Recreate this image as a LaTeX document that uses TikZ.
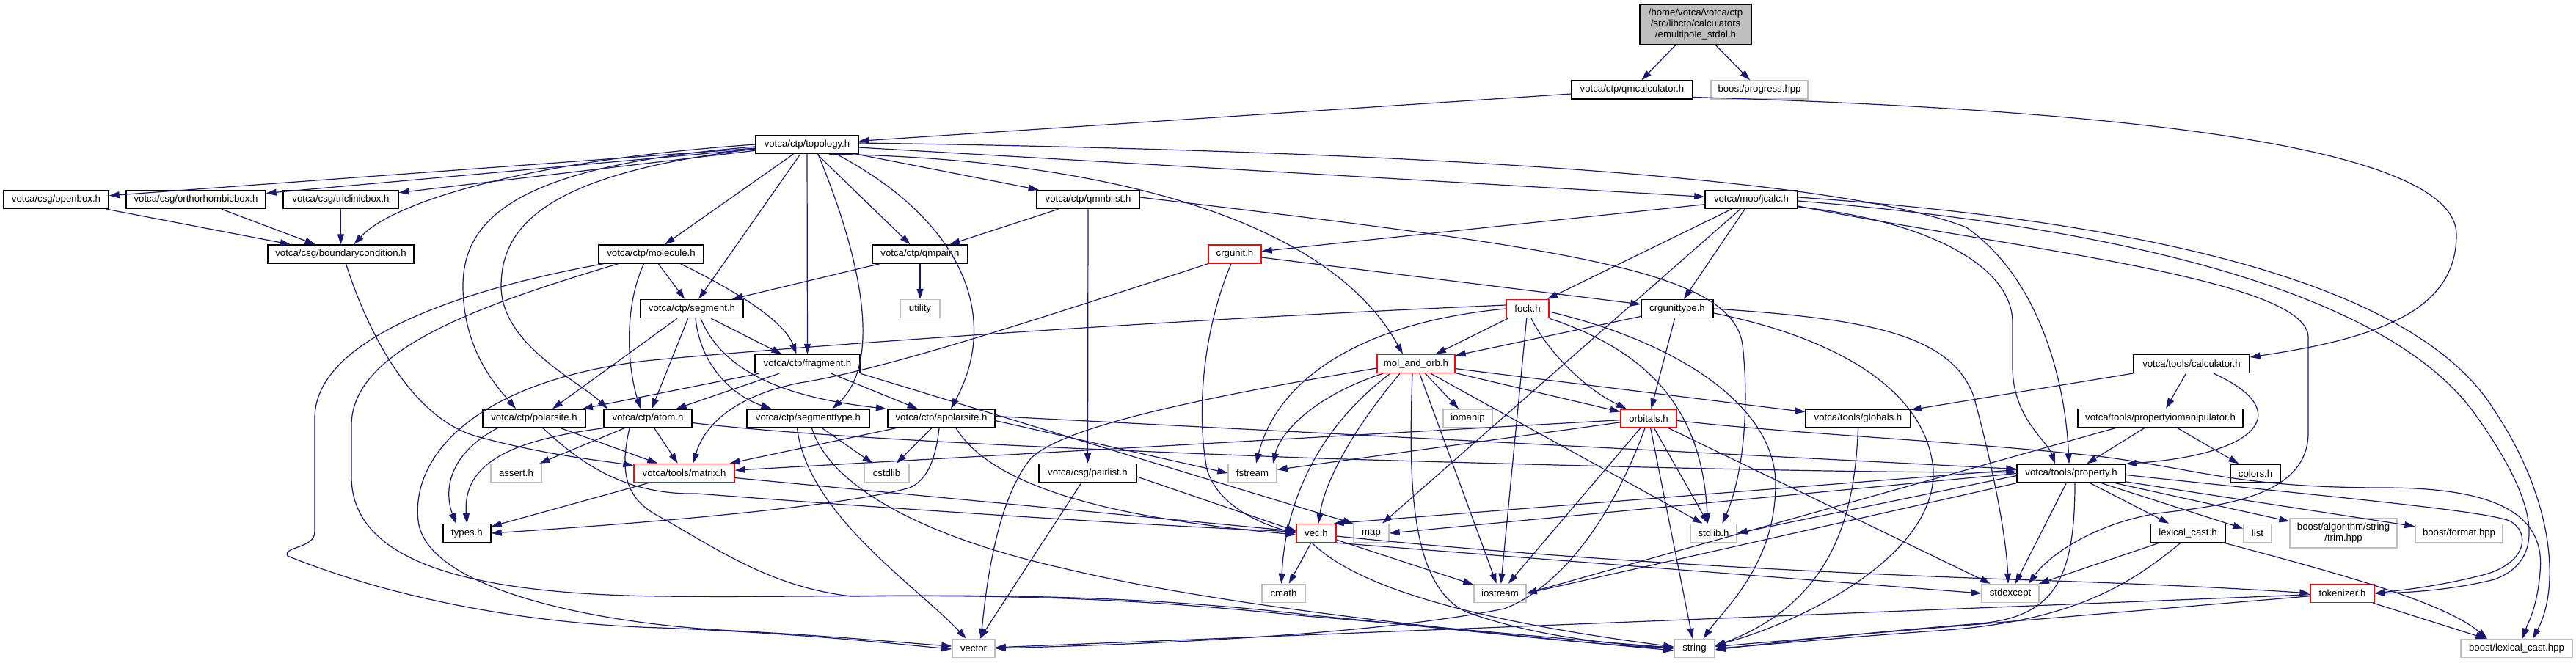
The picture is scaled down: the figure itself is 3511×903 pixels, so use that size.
\documentclass[tikz,border=0pt]{standalone}
\usepackage{fontspec}
\setmainfont{Liberation Sans}
\usetikzlibrary{arrows.meta}
\definecolor{edgec}{RGB}{25,25,112}
\definecolor{sysgray}{RGB}{191,191,191}
\definecolor{rootfill}{RGB}{191,191,191}
\newcommand{\nfont}{\fontsize{13.2}{15}\selectfont}
\begin{document}
\begin{tikzpicture}[x=1pt,y=-1pt,
  bx/.style={draw=black, line width=1.4pt, fill=white, inner sep=0pt, minimum height=25pt, font=\nfont},
  sy/.style={bx, draw=sysgray},
  rd/.style={bx, draw=red},
  e/.style={draw=edgec, line width=1.2pt, -{Triangle[length=14pt,width=9pt]}}]
\useasboundingbox (0,0) rectangle (3511,903);
% nodes
\node[bx, fill=rootfill, minimum width=152pt, minimum height=55pt, align=center] (root) at (2311,33.5) {/home/votca/votca/ctp\\/src/libctp/calculators\\/emultipole\_stdal.h};
\node[bx, minimum width=165pt] (qmcalc) at (2224.5,122.5) {votca/ctp/qmcalculator.h};
\node[sy, minimum width=132pt] (progress) at (2398,122.5) {boost/progress.hpp};
\node[bx, minimum width=140pt] (topology) at (1100,197) {votca/ctp/topology.h};
\node[bx, minimum width=143pt] (openbox) at (76.5,272) {votca/csg/openbox.h};
\node[bx, minimum width=190pt] (ortho) at (267,272) {votca/csg/orthorhombicbox.h};
\node[bx, minimum width=157pt] (tricl) at (464.5,272) {votca/csg/triclinicbox.h};
\node[bx, minimum width=140pt] (qmnblist) at (1483,272) {votca/ctp/qmnblist.h};
\node[bx, minimum width=126pt] (jcalc) at (2387,272) {votca/moo/jcalc.h};
\node[bx, minimum width=199pt] (bc) at (464.5,346.5) {votca/csg/boundarycondition.h};
\node[bx, minimum width=143pt] (molecule) at (887.5,346.5) {votca/ctp/molecule.h};
\node[bx, minimum width=130pt] (qmpair) at (1254,346.5) {votca/ctp/qmpair.h};
\node[rd, minimum width=72pt] (crgunit) at (1683,346.5) {crgunit.h};
\node[bx, minimum width=140pt] (segment) at (943,421) {votca/ctp/segment.h};
\node[sy, minimum width=54pt] (utility) at (1254,421) {utility};
\node[rd, minimum width=58pt] (fock) at (2082,421) {fock.h};
\node[bx, minimum width=98pt] (crgunittype) at (2286,421) {crgunittype.h};
\node[bx, minimum width=143pt] (fragment) at (1100.5,496) {votca/ctp/fragment.h};
\node[rd, minimum width=106pt] (mao) at (1930,496) {mol\_and\_orb.h};
\node[bx, minimum width=158pt] (calc) at (2987,496) {votca/tools/calculator.h};
\node[bx, minimum width=140pt] (polarsite) at (728,570.5) {votca/ctp/polarsite.h};
\node[bx, minimum width=120pt] (atom) at (883,570.5) {votca/ctp/atom.h};
\node[bx, minimum width=167pt] (segtype) at (1101.5,570.5) {votca/ctp/segmenttype.h};
\node[bx, minimum width=146pt] (apolar) at (1283,570.5) {votca/ctp/apolarsite.h};
\node[sy, minimum width=67pt] (iomanip) at (2000.5,570.5) {iomanip};
\node[rd, minimum width=76pt] (orbitals) at (2247,570.5) {orbitals.h};
\node[bx, minimum width=143pt] (globals) at (2532.5,570.5) {votca/tools/globals.h};
\node[bx, minimum width=225pt] (pim) at (2944.5,570) {votca/tools/propertyiomanipulator.h};
\node[sy, minimum width=69pt] (assert) at (703.5,645) {assert.h};
\node[rd, minimum width=137pt] (matrix) at (932.5,645) {votca/tools/matrix.h};
\node[sy, minimum width=61pt] (cstdlib) at (1208.5,645) {cstdlib};
\node[bx, minimum width=133pt] (pairlist) at (1482.5,645) {votca/csg/pairlist.h};
\node[sy, minimum width=66pt] (fstream) at (1707,645) {fstream};
\node[bx, minimum width=148pt] (property) at (2823,645.5) {votca/tools/property.h};
\node[bx, minimum width=68pt] (colors) at (3074,645.5) {colors.h};
\node[bx, minimum width=65pt] (types) at (636.5,727) {types.h};
\node[rd, minimum width=54pt] (vec) at (1794,727) {vec.h};
\node[sy, minimum width=48pt] (map) at (1869,727) {map};
\node[sy, minimum width=63pt] (stdlib) at (2335.5,727) {stdlib.h};
\node[bx, minimum width=102pt] (lexcast) at (2982,727) {lexical\_cast.h};
\node[sy, minimum width=38pt] (list) at (3077,727) {list};
\node[sy, minimum width=146pt, minimum height=40pt, align=center] (trim) at (3194,727) {boost/algorithm/string\\/trim.hpp};
\node[sy, minimum width=119pt] (format) at (3351.5,727) {boost/format.hpp};
\node[sy, minimum width=59pt] (cmath) at (1749.5,809) {cmath};
\node[sy, minimum width=71pt] (iostream) at (2044.5,809) {iostream};
\node[sy, minimum width=78pt] (stdexcept) at (2740,809) {stdexcept};
\node[rd, minimum width=87pt] (tokenizer) at (3192.5,809) {tokenizer.h};
\node[sy, minimum width=58pt] (vector) at (1327,884) {vector};
\node[sy, minimum width=55pt] (string) at (2309.5,884) {string};
\node[sy, minimum width=152pt] (lexhpp) at (3430,884) {boost/lexical\_cast.hpp};
% edges: root, qmcalculator
\draw[e] (root) -- (qmcalc);
\draw[e] (root) -- (progress);
\draw[e] (qmcalc) -- (topology);
\draw[e] ([yshift=-10]qmcalc.east) .. controls (2900,150) and (3348,200) .. (3348,320) .. controls (3348,420) and (3250,460) .. ([yshift=9]calc.east);
% topology
\draw[e] (topology) -- (openbox);
\draw[e] (topology) -- (ortho);
\draw[e] (topology) -- (tricl);
\draw[e] (topology.west) .. controls (700,220) and (530,280) .. ([xshift=18]bc.north);
\draw[e] (topology) -- (molecule);
\draw[e] (topology) -- (segment);
\draw[e] (topology) -- (fragment);
\draw[e] ([yshift=-3]topology.west) .. controls (720,225) and (631,290) .. (631,390) .. controls (631,480) and (680,530) .. ([xshift=-25]polarsite.north);
\draw[e] ([yshift=-6]topology.west) .. controls (760,235) and (683,300) .. (683,390) .. controls (683,470) and (790,520) .. ([xshift=-55]atom.north);
\draw[e] ([xshift=15]topology.south) .. controls (1185,380) and (1195,500) .. ([xshift=33]segtype.north);
\draw[e] ([xshift=40]topology.south) .. controls (1310,300) and (1365,430) .. ([xshift=13]apolar.north);
\draw[e] (topology) -- (qmpair);
\draw[e] (topology) -- (qmnblist);
\draw[e] (topology) -- (jcalc);
\draw[e] ([xshift=30]topology.south) .. controls (1450,215) and (1800,280) .. ([xshift=-18]mao.north);
\draw[e] ([yshift=2]topology.east) .. controls (1900,205) and (2500,240) .. (2680,310) .. controls (2780,380) and (2815,520) .. ([xshift=-3]property.north);
% boxes -> boundarycondition
\draw[e] (openbox) -- (bc);
\draw[e] (ortho) -- (bc);
\draw[e] (tricl) -- (bc);
\draw[e] ([xshift=7]bc.south) .. controls (500,450) and (560,570) .. (650,595) .. controls (740,620) and (820,628) .. ([yshift=-3]matrix.north west);
% molecule
\draw[e] (molecule) -- (segment);
\draw[e] ([xshift=40]molecule.south) .. controls (1010,400) and (1070,440) .. ([xshift=-15]fragment.north);
\draw[e] ([xshift=-10]molecule.south) .. controls (850,420) and (855,500) .. ([xshift=-10]atom.north);
\draw[e] ([xshift=-65]molecule.south) .. controls (600,400) and (429,470) .. (429,570) -- (429,725) .. controls (429,748) and (385,745) .. (392,758) .. controls (520,810) and (700,850) .. (900,856) .. controls (1100,864) and (1220,878) .. ([yshift=-1]vector.west);
\draw[e] ([xshift=-45]molecule.south) .. controls (640,420) and (479,480) .. (479,580) -- (479,650) .. controls (479,770) and (650,810) .. (900,813) .. controls (1200,816) and (1450,800) .. (1780,838) .. controls (2000,860) and (2180,880) .. (string.west);
% qmnblist, qmpair
\draw[e] (qmnblist) -- (qmpair);
\draw[e] (qmnblist) -- (pairlist);
\draw[e] ([yshift=3]qmnblist.east) .. controls (2150,340) and (2360,370) .. (2375,470) .. controls (2385,560) and (2375,650) .. ([xshift=12]stdlib.north);
\draw[e] (qmpair) -- (segment);
\draw[e] (qmpair) -- (utility);
% jcalc
\draw[e] (jcalc) -- (crgunit);
\draw[e] (jcalc) -- (crgunittype);
\draw[e] (jcalc) -- (fock);
\draw[e] (jcalc) -- (map);
\draw[e] ([yshift=-10]jcalc.east) .. controls (2620,300) and (2743,360) .. (2743,440) -- (2743,500) .. controls (2743,570) and (2790,600) .. ([xshift=-22]property.north);
\draw[e] ([yshift=-9]jcalc.east) .. controls (2750,340) and (3146,380) .. (3146,460) -- (3146,590) .. controls (3146,680) and (3020,690) .. (2940,700) .. controls (2850,715) and (2790,760) .. ([xshift=25]stdexcept.north);
\draw[e] ([yshift=3]jcalc.east) .. controls (2900,300) and (3290,380) .. (3400,560) .. controls (3480,680) and (3490,800) .. ([xshift=22]lexhpp.north);
\draw[e] ([yshift=-2]jcalc.east) .. controls (2900,310) and (3250,400) .. (3370,560) .. controls (3450,670) and (3480,760) .. (3400,790) .. controls (3340,805) and (3280,808) .. (tokenizer.east);
% crgunit, crgunittype
\draw[e] (crgunit) -- (crgunittype);
\draw[e] (crgunit.south west) .. controls (1400,440) and (1200,505) .. (1090,522) .. controls (1000,540) and (960,580) .. ([xshift=12]matrix.north);
\draw[e] ([xshift=-5]crgunit.south) .. controls (1640,450) and (1630,560) .. (1645,640) .. controls (1660,690) and (1720,715) .. (vec.west);
\draw[e] (crgunittype) -- (mao);
\draw[e] (crgunittype) -- (orbitals);
\draw[e] (crgunittype.east) .. controls (2560,435) and (2660,460) .. (2690,540) .. controls (2720,650) and (2735,740) .. ([xshift=-3]stdexcept.north);
\draw[e] ([yshift=-6]crgunittype.east) .. controls (2500,460) and (2625,530) .. (2635,640) .. controls (2640,760) and (2450,850) .. ([yshift=4]string.east);
% fock
\draw[e] (fock) -- (mao);
\draw[e] ([xshift=5]fock.south) .. controls (2110,480) and (2160,530) .. ([xshift=-30]orbitals.north);
\draw[e] (fock) -- (iostream);
\draw[e] (fock.south east) .. controls (2250,480) and (2320,560) .. ([xshift=-8]stdlib.north);
\draw[e] ([yshift=-4]fock.east) .. controls (2300,470) and (2420,560) .. (2420,660) .. controls (2420,770) and (2350,830) .. ([xshift=12]string.north);
\draw[e] (fock.west) .. controls (1850,440) and (1740,520) .. ([xshift=5]fstream.north);
\draw[e] ([yshift=5]fock.west) .. controls (1500,440) and (1000,480) .. (880,492) .. controls (650,520) and (560,620) .. (570,710) .. controls (580,800) and (800,850) .. (1000,860) .. controls (1150,868) and (1250,878) .. ([yshift=3]vector.west);
% mol_and_orb
\draw[e] (mao) -- (iomanip);
\draw[e] (mao) -- (orbitals);
\draw[e] (mao) -- (globals);
\draw[e] ([yshift=-6]mao.west) .. controls (1650,540) and (1450,580) .. (1405,625) .. controls (1360,680) and (1345,790) .. ([xshift=10]vector.north);
\draw[e] ([xshift=-35]mao.south) .. controls (1800,580) and (1752,680) .. ([xshift=-3]cmath.north);
\draw[e] ([xshift=-22]mao.south) .. controls (1840,590) and (1805,660) .. ([xshift=3]vec.north);
\draw[e] ([xshift=-45]mao.south) .. controls (1790,540) and (1745,590) .. ([xshift=28]fstream.north);
\draw[e] (mao) -- (iostream);
\draw[e] ([xshift=-5]mao.south) .. controls (1920,650) and (1920,800) .. (2000,835) .. controls (2100,870) and (2200,878) .. (string.west);
\draw[e] ([xshift=20]mao.south) -- ([xshift=-15]stdlib.north);
% orbitals
\draw[e] (orbitals) -- (matrix);
\draw[e] (orbitals) -- (fstream);
\draw[e] ([xshift=-5]orbitals.south) .. controls (2200,700) and (2130,800) .. (2050,830) .. controls (1850,870) and (1500,880) .. (vector.east);
\draw[e] (orbitals) -- (string);
\draw[e] (orbitals) -- (stdlib);
\draw[e] (orbitals) -- (stdexcept);
\draw[e] (orbitals) -- (iostream);
\draw[e] ([yshift=-3]orbitals.east) .. controls (2450,592) and (2650,600) .. (2860,622) .. controls (3000,640) and (3050,665) .. (3250,665) .. controls (3400,665) and (3470,700) .. (3462,780) .. controls (3458,830) and (3445,850) .. ([xshift=8]lexhpp.north);
% globals, calculator, propertyiomanipulator
\draw[e] (globals.south) .. controls (2528,700) and (2500,820) .. ([yshift=3]string.east);
\draw[e] (calc) -- (pim);
\draw[e] ([xshift=30]calc.south) .. controls (3130,560) and (3080,620) .. (property.north east);
\draw[e] (calc) -- (globals);
\draw[e] (pim) -- (property);
\draw[e] (pim) -- (colors);
\draw[e] ([xshift=-60]pim.south) -- (iostream.east);
% property
\draw[e] ([yshift=5]property.west) -- ([xshift=-4]vec.north east);
\draw[e] (property.west) -- (map.east);
\draw[e] ([yshift=-3]property.west) -- (stdlib.east);
\draw[e] (property.south west) -- (iostream.east);
\draw[e] (property) -- (stdexcept);
\draw[e] ([xshift=5]property.south) .. controls (2828,790) and (2800,840) .. (2700,850) .. controls (2550,862) and (2420,876) .. ([yshift=-2]string.east);
\draw[e] (property) -- (lexcast);
\draw[e] (property) -- (list);
\draw[e] (property) -- (trim);
\draw[e] (property) -- (format);
\draw[e] ([yshift=-2]property.east) .. controls (3150,675) and (3380,695) .. (3420,710) .. controls (3450,725) and (3445,770) .. (3380,785) .. controls (3320,800) and (3270,805) .. (tokenizer.east);
% lexical_cast, tokenizer, vec, matrix
\draw[e] (lexcast) -- (stdexcept);
\draw[e] ([xshift=-10]lexcast.south) .. controls (2900,800) and (2820,848) .. (2640,860) .. controls (2500,870) and (2400,880) .. (string.east);
\draw[e] (lexcast) .. controls (3180,780) and (3330,820) .. ([xshift=-40]lexhpp.north);
\draw[e] (tokenizer) -- (vector);
\draw[e] (tokenizer) -- (string);
\draw[e] (tokenizer) -- (lexhpp);
\draw[e] (vec) -- (cmath);
\draw[e] (vec) -- (iostream);
\draw[e] ([xshift=-6]vec.south) .. controls (1850,800) and (2000,845) .. ([yshift=2]string.west);
\draw[e] (vec.south east) -- (stdexcept.west);
\draw[e] ([yshift=-4]vec.east) .. controls (2200,770) and (2600,785) .. (2740,790) .. controls (2900,795) and (3050,802) .. (tokenizer.west);
\draw[e] (matrix) -- (vec);
\draw[e] (matrix) -- (types);
% atom, polarsite
\draw[e] (atom.south west) .. controls (700,600) and (630,630) .. (types.north);
\draw[e] (atom) -- (assert);
\draw[e] (atom) -- (matrix);
\draw[e] ([yshift=-6]atom.east) .. controls (1100,595) and (1400,610) .. (1800,625) .. controls (2300,640) and (2600,645) .. ([yshift=2]property.west);
\draw[e] ([xshift=-25]atom.south) .. controls (845,640) and (850,680) .. (900,705) .. controls (980,750) and (1050,800) .. (1160,813) .. controls (1450,810) and (1600,822) .. (1780,840) .. controls (2000,858) and (2180,876) .. ([yshift=1]string.west);
\draw[e] ([xshift=-50]polarsite.south) .. controls (610,620) and (605,670) .. ([xshift=-15]types.north);
\draw[e] (polarsite) -- (matrix);
\draw[e] ([xshift=12]polarsite.south) .. controls (790,630) and (850,675) .. (950,673) .. controls (1300,700) and (1600,718) .. ([yshift=2]vec.west);
% apolarsite
\draw[e] (apolar) -- (matrix);
\draw[e] ([xshift=-3]apolar.south) .. controls (1275,630) and (1262,655) .. (1240,665) .. controls (1150,690) and (900,712) .. (types.east);
\draw[e] (apolar) -- (cstdlib);
\draw[e] ([xshift=20]apolar.south) .. controls (1350,660) and (1500,705) .. ([yshift=-2]vec.west);
\draw[e] ([yshift=-3]apolar.east) -- (fstream.west);
\draw[e] ([yshift=3]apolar.east) -- ([yshift=6]property.west);
% segmenttype
\draw[e] (segtype) -- (cstdlib);
\draw[e] ([xshift=-15]segtype.south) .. controls (1100,700) and (1250,800) .. ([xshift=-10]vector.north);
\draw[e] ([xshift=5]segtype.south) .. controls (1130,660) and (1250,730) .. (1450,775) .. controls (1700,835) and (2100,870) .. ([yshift=-3]string.west);
% fragment, segment
\draw[e] (fragment) -- (polarsite);
\draw[e] (fragment) -- (atom);
\draw[e] (fragment) -- (apolar);
\draw[e] (fragment.south east) -- (map.north west);
\draw[e] (segment) -- ([xshift=-35]fragment.north);
\draw[e] ([xshift=-20]segment.south) -- ([xshift=25]polarsite.north);
\draw[e] (segment) -- (atom);
\draw[e] ([xshift=5]segment.south) .. controls (955,500) and (1000,540) .. ([xshift=-50]segtype.north);
\draw[e] ([xshift=12]segment.south) .. controls (990,520) and (1100,545) .. ([xshift=-75]apolar.north);
% pairlist
\draw[e] (pairlist) -- (vector);
\draw[e] ([yshift=-5]pairlist.east) -- ([yshift=3]vec.west);
\end{tikzpicture}
\end{document}
